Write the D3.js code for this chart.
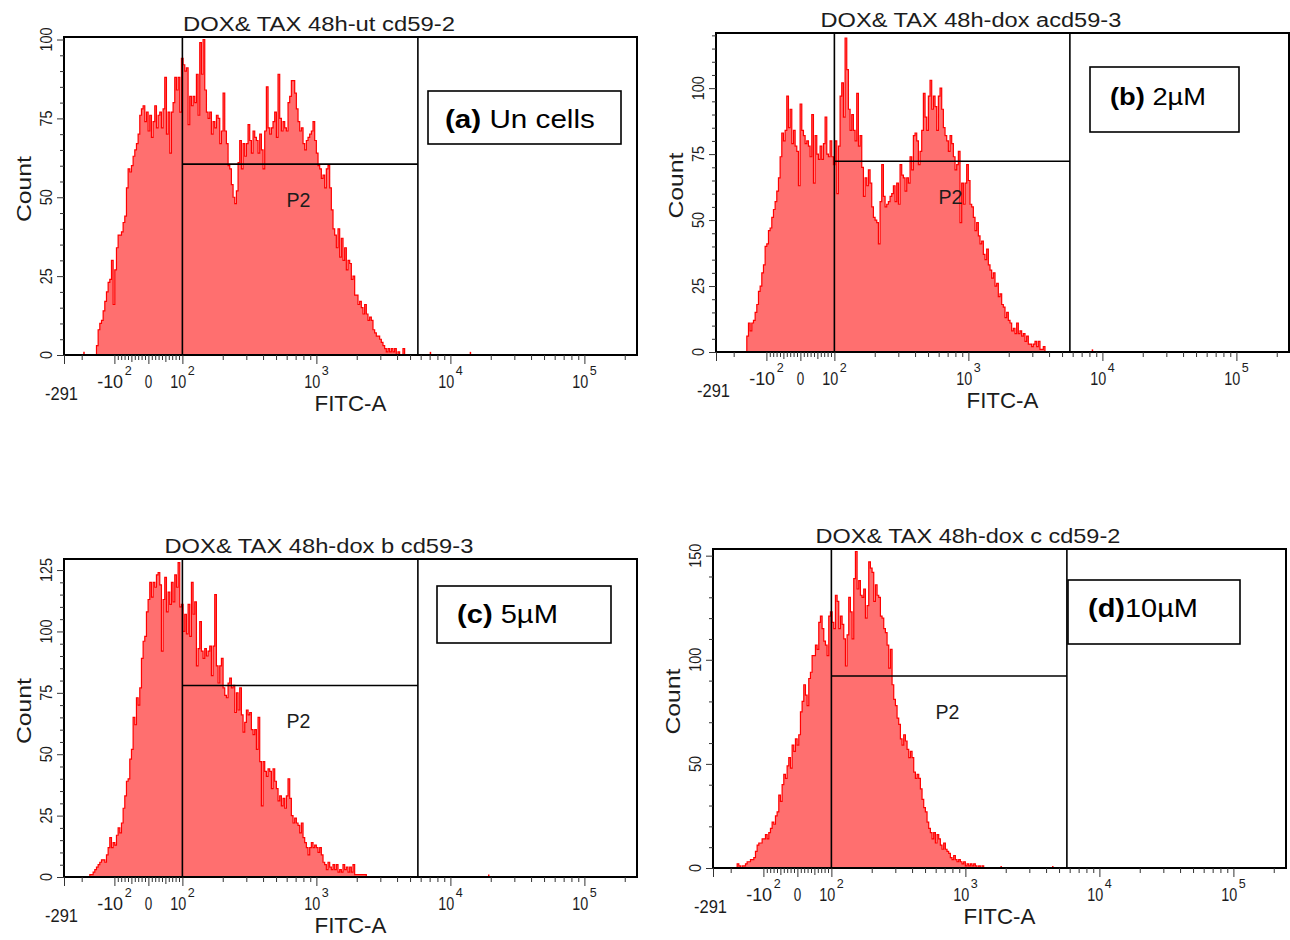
<!DOCTYPE html>
<html><head><meta charset="utf-8">
<script src="https://cdn.jsdelivr.net/npm/d3@7"></script>
<style>
body{margin:0;background:#fff;}
svg{display:block;font-family:"Liberation Sans",Arial,sans-serif;}
text{white-space:pre;}
</style>
</head><body>
<svg id="chart" width="1290" height="940"></svg>
<script>
// ---------------- DATA ----------------
const panelTitles = ["DOX& TAX 48h-ut cd59-2","DOX& TAX 48h-dox acd59-3","DOX& TAX 48h-dox b cd59-3","DOX& TAX 48h-dox c cd59-2"];
const panelTags = ["(a)","(b)","(c)","(d)"];
const panelConditions = [" Un cells"," 2µM"," 5µM","10µM"];
const xAxisLabel = "FITC-A";
const yAxisLabel = "Count";
const gateName = "P2";

// histogram channels (display channels across the full FITC-A range)
const channelCount = 344;
const startChannels = [19, 18, 15, 14];

const countsA = [0,3,8,10,11,14,17,20,23,24,
30,16,27,34,38,38,39,42,44,53,
59,58,60,63,65,67,70,76,78,79,
74,77,71,76,69,74,79,72,76,77,
72,78,88,70,77,64,77,80,88,84,
88,77,94,92,90,91,73,82,79,82,
80,89,76,99,89,100,84,77,75,77,
70,74,72,76,75,67,71,83,71,67,
60,59,54,50,48,52,61,68,59,67,
63,67,73,68,64,71,69,68,64,70,
65,59,71,85,72,70,72,74,77,69,
89,75,71,74,72,71,80,82,87,87,
83,78,74,71,72,67,65,68,69,70,
71,74,68,64,60,59,56,57,53,59,
60,53,46,40,38,34,40,31,37,30,
34,27,30,29,24,25,19,19,16,17,
15,13,16,13,11,12,11,8,7,6,
6,5,4,3,2,1,2,1,2,1,
2,0,1,0,0,2,0];

const countsB = [0,6,11,8,11,12,15,18,23,25,
30,33,40,41,46,47,51,54,57,61,
66,74,83,80,84,97,85,92,79,84,
78,76,63,94,84,82,79,80,78,74,
90,64,82,75,73,78,73,79,89,75,
74,80,74,71,80,60,78,97,102,89,
119,107,92,84,90,84,80,98,78,82,
70,59,66,63,69,64,55,51,50,49,
41,57,71,59,55,56,57,59,60,63,
57,64,56,71,67,66,61,66,64,74,
69,82,83,80,71,76,84,98,89,84,
97,103,92,97,93,84,97,100,92,85,
82,80,76,82,79,74,69,71,76,49,
64,56,64,71,65,56,55,51,46,49,
44,41,42,37,35,39,33,31,28,30,
25,26,21,22,18,17,13,15,12,11,
8,9,7,11,7,8,6,7,4,6,
3,3,2,3,4,2,4,1,1,2,0];

const countsC = [0,1,1,2,3,4,5,6,7,7,
6,9,12,16,12,14,13,17,20,18,
22,28,33,39,40,48,52,65,62,73,
70,77,89,96,98,108,113,120,114,120,
118,123,124,119,92,113,122,108,116,111,
120,112,123,118,128,110,111,100,107,99,
111,98,120,107,112,86,93,104,92,89,
93,90,92,94,82,94,115,86,79,86,
89,77,74,73,79,81,77,78,67,75,
68,77,66,59,63,68,66,67,60,58,
60,52,65,47,29,47,43,41,44,43,
36,44,39,36,31,33,29,32,28,33,
40,32,25,22,24,22,21,18,22,16,
14,12,9,12,14,12,13,12,10,12,
9,6,5,3,6,4,3,5,3,5,
2,3,2,5,3,4,2,4,2,5,
1,1,1,1,1,1,1,0];

const countsD = [0,2,1,0,1,1,2,3,3,4,
4,5,8,11,12,12,14,14,16,14,
17,19,22,21,25,27,35,32,40,45,
43,49,53,48,59,56,62,59,64,75,
80,88,83,78,91,94,102,102,107,105,
118,121,115,109,107,102,121,123,118,115,
131,128,115,121,117,110,97,112,130,123,
110,139,152,134,138,131,130,134,120,126,
147,144,142,128,136,131,130,121,120,115,
113,107,96,105,88,81,78,72,69,62,
59,64,61,57,53,56,53,46,43,45,
43,38,33,29,27,22,19,17,14,17,
12,16,14,11,9,12,9,8,7,5,
4,6,4,3,4,3,2,3,1,2,
1,2,1,2,1,0,1,0,1,0];

// isolated single events [channel, count]
const strayEvents = [
  [[12,1],[220,1],[244,1]],
  [[226,1]],
  [[255,1]],
  [[173,1],[204,1]]
];

const yMaxValues = [100.8, 120.9, 129.5, 153.2];
const yMajorTicks = [[0,25,50,75,100],[0,25,50,75,100],[0,25,50,75,100,125],[0,50,100,150]];
const yMinorStep = [5, 5, 5, 10];

const gateLow = 100, gateHigh = 5720;
const markerCounts = [60.5, 72.3, 78, 92.2];

const xMin = -291, xMax = 246900;
const xMajorTicks = [-291, -100, 0, 100, 1000, 10000, 100000];
const xMediumTicks = [-50, 50];
const xMinorTicks = [-200,-90,-80,-70,-60,-40,-30,-20,-10,10,20,30,40,60,70,80,90,
  200,300,400,500,600,700,800,900,2000,3000,4000,5000,6000,7000,8000,9000,
  20000,30000,40000,50000,60000,70000,80000,90000,200000];
const xTickBases = ["-10","0","10","10","10","10"];
const xTickExps  = ["2","","2","3","4","5"];
const xTickValues = [-100,0,100,1000,10000,100000];
const xMinLabel = "-291";

// ---------------- LAYOUT ----------------
const layout = [
  {L:64,  T:37,  W:573, B:355},
  {L:716, T:33,  W:573, B:352},
  {L:64,  T:559, W:573, B:877},
  {L:713, T:549, W:573, B:868}
];
const titleWidths = [272, 301, 309, 305];
const tagBoxes = [
  {x:428,  y:91,  w:193, h:53, tx:445,  ty:128, tw:150, fs:25},
  {x:1090, y:67,  w:149, h:65, tx:1110, ty:105, tw:96,  fs:23},
  {x:437,  y:586, w:174, h:57, tx:457,  ty:623, tw:101, fs:25},
  {x:1068, y:580, w:172, h:64, tx:1088, ty:617, tw:110, fs:26}
];

// ---------------- HELPERS ----------------
// biexponential-like display transform (decade units)
function T(v){
  if (v >= 100) return Math.log10(v);
  if (v >= -100) return 2 - (100 - v) / 100 * 0.2537;
  return 1.4925 - 0.8104 * Math.log10(-v / 100);
}
function makeX(L, W){
  const lin = d3.scaleLinear().domain([T(xMin), T(xMax)]).range([L, L + W]);
  const s = v => lin(T(v));
  s.domain = () => [xMin, xMax];
  s.range = () => lin.range();
  s.copy = () => makeX(L, W);
  return s;
}
const svg = d3.select("#chart");
const textColor = "#1c1c1c";

function fitted(parent, o){
  const g = parent.append("g").attr("transform", `translate(${o.x},${o.y}) rotate(${o.rotate||0})`);
  const t = g.append("text").attr("font-size", o.size).attr("fill", o.fill || textColor);
  if (o.weight) t.attr("font-weight", o.weight);
  if (o.build) o.build(t); else t.text(o.text);
  const w = t.node().getComputedTextLength();
  const sx = o.width / w;
  const sy = o.sy || 1;
  const off = o.anchor === "middle" ? -o.width / 2 : (o.anchor === "end" ? -o.width : 0);
  t.attr("transform", `translate(${off},0) scale(${sx},${sy})`);
  return g;
}

const allCounts = [countsA, countsB, countsC, countsD];

allCounts.forEach((counts, k) => {
  const {L, T: top, W, B} = layout[k];
  const x = makeX(L, W);
  const ch = d3.scaleLinear().domain([0, channelCount]).range([L, L + W]);
  const y = d3.scaleLinear().domain([0, yMaxValues[k]]).range([B, top]);
  const g = svg.append("g");

  const clipId = "clip" + k;
  svg.append("clipPath").attr("id", clipId).append("rect")
    .attr("x", L).attr("y", top).attr("width", W).attr("height", B - top);

  const pts = counts.map((c, i) => [startChannels[k] + i, c]);
  const area = d3.area().x(d => ch(d[0])).y0(B).y1(d => y(d[1])).curve(d3.curveStep);
  const line = d3.line().x(d => ch(d[0])).y(d => y(d[1])).curve(d3.curveStep);
  g.append("path").datum(pts).attr("d", area).attr("fill", "#ff6f6f").attr("clip-path", `url(#${clipId})`);
  g.append("path").datum(pts).attr("d", line).attr("fill", "none")
    .attr("stroke", "#ff0000").attr("stroke-width", 1.2).attr("clip-path", `url(#${clipId})`);

  g.selectAll(null).data(strayEvents[k]).join("line")
    .attr("x1", d => ch(d[0])).attr("x2", d => ch(d[0]))
    .attr("y1", B).attr("y2", d => y(d[1]))
    .attr("stroke", "#ff0000").attr("stroke-width", 1.5);

  // gates
  const gx1 = x(gateLow), gx2 = x(gateHigh), gy = y(markerCounts[k]);
  [gx1, gx2].forEach(gxv => g.append("line").attr("x1", gxv).attr("x2", gxv).attr("y1", top).attr("y2", B)
    .attr("stroke", "#000").attr("stroke-width", 1.6));
  g.append("line").attr("x1", gx1).attr("x2", gx2).attr("y1", gy).attr("y2", gy)
    .attr("stroke", "#000").attr("stroke-width", 1.6);

  // frame
  g.append("rect").attr("x", L).attr("y", top).attr("width", W).attr("height", B - top)
    .attr("fill", "none").attr("stroke", "#000").attr("stroke-width", 2);

  // x axis ticks
  const xa = svg.append("g").attr("transform", `translate(0,${B})`).attr("color", "#333");
  xa.append("g").call(d3.axisBottom(x).tickValues(xMinorTicks).tickSize(5).tickFormat(""));
  xa.append("g").call(d3.axisBottom(x).tickValues(xMediumTicks).tickSize(7).tickFormat(""));
  xa.append("g").call(d3.axisBottom(x).tickValues(xMajorTicks).tickSize(9).tickFormat(""));
  xa.selectAll(".domain").remove();

  // y axis ticks
  const yMinor = d3.range(0, yMaxValues[k], yMinorStep[k]).filter(v => !yMajorTicks[k].includes(v));
  const ya = svg.append("g").attr("transform", `translate(${L},0)`).attr("color", "#333");
  ya.append("g").call(d3.axisLeft(y).tickValues(yMinor).tickSize(4).tickFormat(""));
  ya.append("g").call(d3.axisLeft(y).tickValues(yMajorTicks[k]).tickSize(7).tickFormat(""));
  ya.selectAll(".domain").remove();

  // y tick labels (rotated)
  yMajorTicks[k].forEach(v => {
    const s = String(v);
    fitted(svg, {x: L - 12, y: y(v), rotate: -90, anchor: "middle", size: 16.5, width: 8 * s.length, text: s});
  });

  // x tick labels
  xTickValues.forEach((v, i) => {
    const base = xTickBases[i], ex = xTickExps[i];
    const bw = base.length === 1 ? 7.5 : (base.length === 2 ? 16 : 26);
    const ew = ex ? 7 : 0;
    const gap = ex ? 1.5 : 0;
    const total = bw + gap + ew;
    const x0 = x(v) - total / 2;
    fitted(svg, {x: x0, y: B + 33, size: 18.5, width: bw, text: base});
    if (ex) fitted(svg, {x: x0 + bw + gap, y: B + 20, size: 12.5, width: ew, text: ex});
  });
  fitted(svg, {x: x(xMin) - 2.5, y: B + 45, anchor: "middle", size: 17.5, width: 33, text: xMinLabel});

  // axis titles
  fitted(svg, {x: L + W / 2, y: B + 56, anchor: "middle", size: 22, width: 72, text: xAxisLabel});
  fitted(svg, {x: L - 33, y: (top + B) / 2 - 7, rotate: -90, anchor: "middle", size: 21, width: 66, text: yAxisLabel});

  // panel title
  fitted(svg, {x: L + 255, y: top - 6, anchor: "middle", size: 21, width: titleWidths[k], text: panelTitles[k]});

  // gate name
  fitted(svg, {x: gx1 + 104, y: gy + 43, size: 20.5, width: 24, text: gateName});

  // tag box
  const tb = tagBoxes[k];
  svg.append("rect").attr("x", tb.x).attr("y", tb.y).attr("width", tb.w).attr("height", tb.h)
    .attr("fill", "#fff").attr("stroke", "#000").attr("stroke-width", 1.6);
  fitted(svg, {x: tb.tx, y: tb.ty, size: tb.fs, width: tb.tw, fill: "#000", build: t => {
    t.append("tspan").attr("font-weight", "bold").text(panelTags[k]);
    t.append("tspan").text(panelConditions[k]);
  }});
});
</script>
</body></html>
